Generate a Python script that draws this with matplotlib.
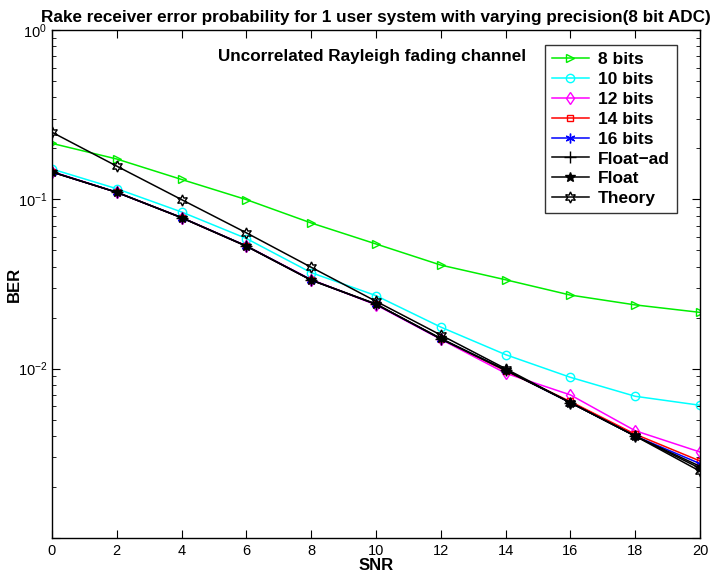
import math
import matplotlib
matplotlib.use("Agg")
import matplotlib.pyplot as plt
from matplotlib.ticker import LogLocator, NullFormatter, FixedLocator, FuncFormatter

plt.rcParams['font.family'] = ['Liberation Sans', 'DejaVu Sans']
plt.rcParams['mathtext.default'] = 'regular'

snr = [0, 2, 4, 6, 8, 10, 12, 14, 16, 18, 20]

ber_8bits = [0.214, 0.173, 0.131, 0.0996, 0.0725, 0.0545, 0.0409, 0.0335, 0.0272, 0.0238, 0.0215]
ber_10bits = [0.151, 0.1155, 0.0842, 0.0587, 0.0369, 0.0270, 0.0176, 0.0121, 0.00889, 0.00687, 0.00608]
ber_12bits = [0.146, 0.110, 0.0780, 0.0530, 0.0336, 0.0238, 0.0149, 0.0094, 0.0070, 0.0043, 0.00322]
ber_14bits = [0.145, 0.110, 0.0780, 0.0530, 0.0334, 0.0240, 0.0150, 0.0097, 0.0064, 0.0041, 0.00285]
ber_16bits = [0.145, 0.110, 0.0780, 0.0530, 0.0334, 0.0240, 0.0150, 0.0098, 0.0063, 0.0040, 0.00275]
ber_float_ad = [0.145, 0.110, 0.0780, 0.0530, 0.0334, 0.0241, 0.0150, 0.0098, 0.0063, 0.0040, 0.00265]
ber_float = [0.145, 0.110, 0.0778, 0.0528, 0.0333, 0.0240, 0.0151, 0.0098, 0.0063, 0.0040, 0.00258]
ber_theory = [0.249, 0.157, 0.0996, 0.0634, 0.0397, 0.0250, 0.0158, 0.0100, 0.0063, 0.0040, 0.00248]

series = [
    ("8 bits", ber_8bits, "#00ee00", ">", False, 6),
    ("10 bits", ber_10bits, "#00ffff", "o", False, 6),
    ("12 bits", ber_12bits, "#ff00ff", "d", False, 6),
    ("14 bits", ber_14bits, "#ff0000", "s", False, 5),
    ("16 bits", ber_16bits, "#0000ff", (6, 2, 0), False, 7),
    ("Float\u2212ad", ber_float_ad, "#000000", "+", False, 8),
    ("Float", ber_float, "#000000", "*", True, 7),
    ("Theory", ber_theory, "#000000", (6, 1, 0), False, 8),
]

fig = plt.figure(figsize=(7.14, 5.74), dpi=100)
ax = fig.add_axes([52/714, 1-538/574, 648/714, 508/574])

for label, vals, color, mk, filled, ms in series:
    ax.plot(snr, vals, color=color, marker=mk, lw=1.1, ms=ms,
            markerfacecolor=color if filled else "none", markeredgecolor=color,
            markeredgewidth=1.0, label=label)

def yfmt(v, pos):
    if v < 0.005:
        return ""
    e = int(round(math.log10(v)))
    return r"$10^{%d}$" % e

ax.set_yscale("log")
ax.set_xlim(0, 20)
ax.set_ylim(1e-3, 1e0)
ax.xaxis.set_major_locator(FixedLocator(snr))
ax.yaxis.set_major_locator(LogLocator(base=10, numticks=10))
ax.yaxis.set_major_formatter(FuncFormatter(yfmt))
ax.yaxis.set_minor_locator(LogLocator(base=10, subs=range(2, 10), numticks=100))
ax.yaxis.set_minor_formatter(NullFormatter())
ax.tick_params(which="both", direction="in", top=True, right=True, labelsize=10.5)
ax.tick_params(axis="x", pad=4)
ax.tick_params(which="major", length=6)
ax.tick_params(which="minor", length=3)
for s in ax.spines.values():
    s.set_linewidth(1.0)

ax.set_title("Rake receiver error probability for 1 user system with varying precision(8 bit ADC)",
             fontsize=12.3, fontweight="bold", pad=6)
ax.set_xlabel("SNR", fontsize=12, fontweight="bold")
ax.xaxis.set_label_coords(0.5, -0.039)
ax.set_ylabel("BER", fontsize=12, fontweight="bold")
ax.yaxis.set_label_coords(-0.058, 0.5)
ax.yaxis.label.set_va("center")

ax.text(0.256, 0.947, "Uncorrelated Rayleigh fading channel", transform=ax.transAxes,
        fontsize=12.3, fontweight="bold", ha="left", va="center")

leg = ax.legend(loc="upper right", bbox_to_anchor=(0.9645, 0.970),
                prop={"weight": "bold", "size": 12.5}, frameon=True, fancybox=False,
                edgecolor="black", handlelength=2.1, labelspacing=0.27, borderpad=0.4,
                handletextpad=0.55, borderaxespad=0)
leg.get_frame().set_linewidth(1.0)

fig.savefig("out.png", dpi=100)
